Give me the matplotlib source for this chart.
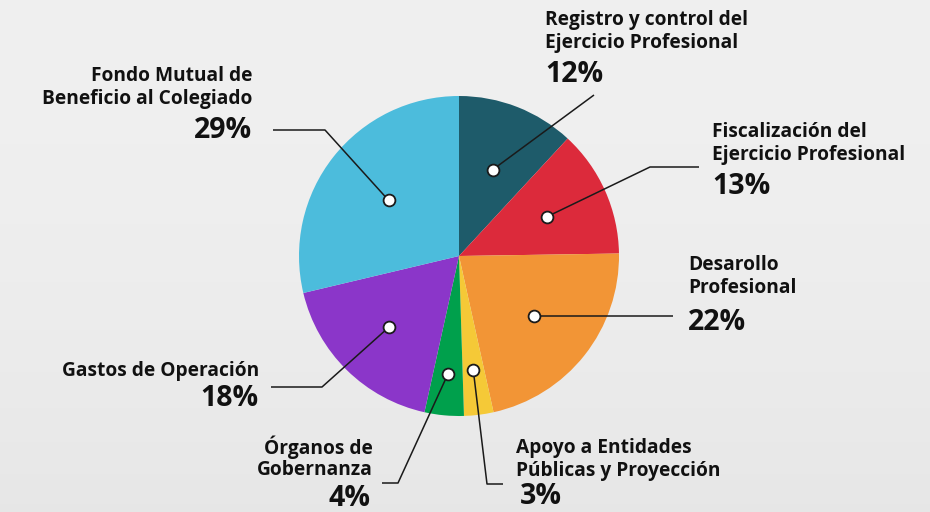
import numpy as np
import matplotlib
matplotlib.use("Agg")
import matplotlib.pyplot as plt

# Budget distribution (percent)
categories = [
    "Registro y control del\nEjercicio Profesional",
    "Fiscalización del\nEjercicio Profesional",
    "Desarollo\nProfesional",
    "Apoyo a Entidades\nPúblicas y Proyección",
    "Órganos de\nGobernanza",
    "Gastos de Operación",
    "Fondo Mutual de\nBeneficio al Colegiado",
]
shares = [12, 13, 22, 3, 4, 18, 29]
colors = ["#1e5b6a", "#dc2a3b", "#f29536", "#f5c937", "#00a04c", "#8b36c9", "#4cbcdc"]

W, H = 930, 512
fig = plt.figure(figsize=(W / 100, H / 100), dpi=100)
ax = fig.add_axes([0, 0, 1, 1])

# soft grey backdrop, slightly darker towards the bottom
grad = np.linspace(0, 1, 256)[:, None]
bg = 0.94 - 0.035 * grad ** 2
ax.imshow(np.dstack([bg, bg, bg]), extent=[0, W, 0, H], origin="upper",
          aspect="auto", zorder=0)

cx, cy, R = 459, H - 256, 160
wedges, _ = ax.pie(shares, colors=colors, startangle=90, counterclock=False,
                   center=(cx, cy), radius=R, frame=True,
                   wedgeprops=dict(linewidth=0))
for w in wedges:
    w.set_zorder(2)
ax.set_xlim(0, W)
ax.set_ylim(0, H)
ax.set_aspect("equal")
ax.axis("off")

FONT = "Open Sans"
WEIGHT = "bold"
TXT = "#111111"

def y(v):
    return H - v

# label layout per slice: first text line, leader elbow / end, dot radius fraction, percent position
layout = [
    dict(tx=545, ty=20, ha="left", elbow=(594, 95), end=None, rf=0.58, py=75),
    dict(tx=712, ty=132, ha="left", elbow=(650, 167), end=(699, 167), rf=0.6, py=187),
    dict(tx=688, ty=265, ha="left", elbow=None, end=(673, None), rf=0.6, py=322),
    dict(tx=516, ty=448, ha="left", elbow=(487, 484), end=(503, 484), rf=0.72, py=497, px=520),
    dict(tx=373, ty=447, ha="right", elbow=(398, 483), end=(382, 483), rf=0.74, py=498, px=370),
    dict(tx=259, ty=371, ha="right", elbow=(322, 387), end=(271, 387), rf=0.62, py=398, px=258),
    dict(tx=252, ty=76, ha="right", elbow=(325, 130), end=(273, 130), rf=0.56, py=131),
]

for w, lab, val, L in zip(wedges, categories, shares, layout):
    mid = np.deg2rad((w.theta1 + w.theta2) / 2)
    dx = cx + L["rf"] * R * np.cos(mid)
    dy = cy + L["rf"] * R * np.sin(mid)
    xs, ys = [dx], [dy]
    if L["elbow"] is not None:
        xs.append(L["elbow"][0]); ys.append(y(L["elbow"][1]))
    if L["end"] is not None:
        ex, ey = L["end"]
        xs.append(ex); ys.append(dy if ey is None else y(ey))
    ax.plot(xs, ys, color="#1a1a1a", lw=1.1, zorder=3, solid_capstyle="butt")
    ax.plot(dx, dy, "o", ms=8.5, mfc="white", mec="#1a1a1a", mew=1.3, zorder=4)

    for i, line in enumerate(lab.split("\n")):
        ax.text(L["tx"], y(L["ty"] + 23 * i), line, ha=L["ha"], va="center",
                fontsize=13.8, fontweight=WEIGHT, family=FONT, color=TXT, zorder=5)
    ax.text(L.get("px", L["tx"]), y(L["py"]), f"{val}%", ha=L["ha"], va="center",
            fontsize=20.5, fontweight=WEIGHT, family=FONT, color=TXT, zorder=5)

fig.savefig("out.png", dpi=100)
